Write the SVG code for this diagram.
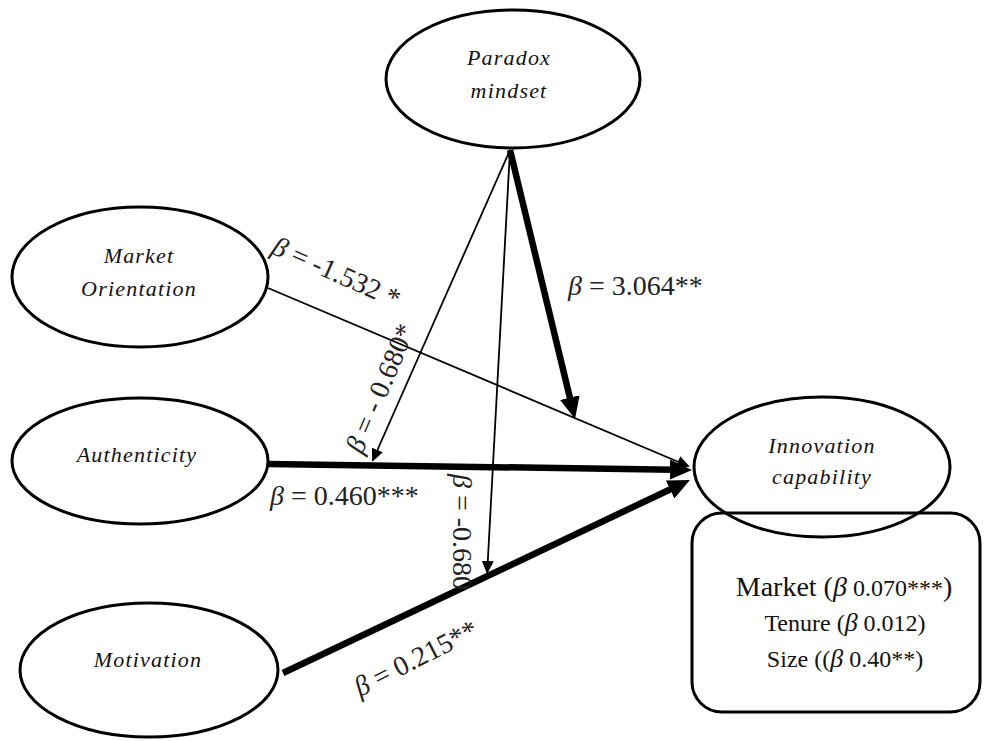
<svg xmlns="http://www.w3.org/2000/svg" width="984" height="741" viewBox="0 0 984 741">
<style>
.node{fill:none;stroke:#000;stroke-width:3}
.nl{font-family:"Liberation Serif","Times New Roman",serif;font-style:italic;font-size:22px;letter-spacing:1.2px;fill:#111;text-anchor:middle}
.thin{fill:none;stroke:#000;stroke-width:1.8}
.thick{fill:none;stroke:#000;stroke-width:6.5}
.lab{font-family:"Liberation Serif","Times New Roman",serif;font-size:28px;fill:#222}
.b{font-style:italic}
.ctl{font-family:"Liberation Serif","Times New Roman",serif;fill:#111;text-anchor:middle}
</style>
<defs>
<marker id="ahs" markerUnits="userSpaceOnUse" markerWidth="14" markerHeight="12" refX="11" refY="6" orient="auto"><path d="M0,0 L13,6 L0,12 z" fill="#000"/></marker>
<marker id="ahb" markerUnits="userSpaceOnUse" markerWidth="24" markerHeight="20" refX="4" refY="10" orient="auto"><path d="M0,0 L22,10 L0,20 z" fill="#000"/></marker>
</defs>
<g id="connectors">
<path class="thin" d="M268,288 L688,466" marker-end="url(#ahs)"/>
<path class="thick" d="M268,464 L674,469.7" marker-end="url(#ahb)"/>
<path class="thick" d="M283,673 L673.7,487.7" marker-end="url(#ahb)"/>
<path class="thick" d="M510,150 L570.8,401.5" marker-end="url(#ahb)"/>
<path class="thin" d="M510,150 L373,460" marker-end="url(#ahs)"/>
<path class="thin" d="M510,150 L487.2,572" marker-end="url(#ahs)"/>
<text class="lab" transform="translate(270,253) rotate(24)"><tspan class="b">β</tspan> = -1.532 *</text>
<text class="lab" transform="translate(362,455) rotate(-67)"><tspan class="b">β</tspan> = - 0.680*</text>
<text class="lab" x="568" y="295"><tspan class="b">β</tspan> = 3.064**</text>
<text class="lab" x="270" y="505"><tspan class="b">β</tspan> = 0.460***</text>
<text class="lab" transform="translate(360,697) rotate(-27)"><tspan class="b">β</tspan> = 0.215**</text>
<text class="lab" transform="translate(453,474) rotate(90)"><tspan class="b">β</tspan> = -0.680</text>
</g>
<g id="paradox">
<ellipse class="node" cx="513" cy="79" rx="127" ry="69"/>
<text class="nl" x="509" y="65">Paradox</text>
<text class="nl" x="509" y="98">mindset</text>
</g>
<g id="market-orientation">
<ellipse class="node" cx="140" cy="277" rx="128" ry="70"/>
<text class="nl" x="139" y="263">Market</text>
<text class="nl" x="139" y="296">Orientation</text>
</g>
<g id="authenticity">
<ellipse class="node" cx="140" cy="461" rx="128" ry="63"/>
<text class="nl" x="137" y="462">Authenticity</text>
</g>
<g id="motivation">
<ellipse class="node" cx="149" cy="670" rx="129" ry="67"/>
<text class="nl" x="148" y="667">Motivation</text>
</g>
<g id="innovation">
<ellipse class="node" cx="822" cy="467" rx="128" ry="70"/>
<text class="nl" x="822" y="453">Innovation</text>
<text class="nl" x="822" y="484">capability</text>
</g>
<g id="controls">
<rect class="node" x="692" y="513" width="288" height="199" rx="30" ry="30"/>
<text class="ctl" x="844" y="596"><tspan font-size="28">Market (</tspan><tspan font-size="28" class="b">β</tspan><tspan font-size="24"> 0.070***</tspan><tspan font-size="28">)</tspan></text>
<text class="ctl" x="845" y="631" font-size="24">Tenure (<tspan class="b" font-size="26">β</tspan> 0.012)</text>
<text class="ctl" x="845" y="667" font-size="24">Size ((<tspan class="b" font-size="26">β</tspan> 0.40**)</text>
</g>
</svg>
